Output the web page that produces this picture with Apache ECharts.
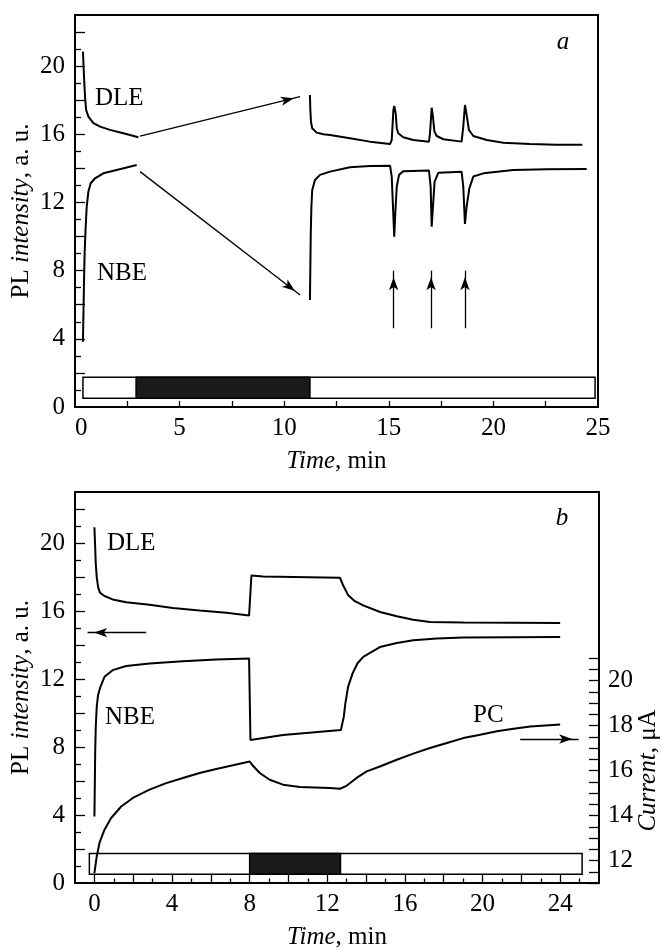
<!DOCTYPE html>
<html>
<head>
<meta charset="utf-8">
<script src="https://cdn.jsdelivr.net/npm/echarts@6/dist/echarts.min.js"></script>
<style>html,body{margin:0;padding:0;background:#fff}#c{width:661px;height:951px}</style>
</head>
<body>
<div id="c"></div>
<script>
// ---------- Panel a data ----------
const dleA1 = [[0.38,20.85],[0.43,19.38],[0.48,18.2],[0.53,17.43],[0.64,17.04],[0.88,16.65],[1.20,16.45],[1.67,16.26],[2.31,16.06],[3.03,15.83]];
const nbeA1 = [[0.38,3.83],[0.40,5.30],[0.43,7.26],[0.46,9.02],[0.51,10.58],[0.56,11.76],[0.64,12.64],[0.75,13.13],[0.96,13.42],[1.35,13.71],[1.99,13.91],[2.95,14.20]];
const dleA2 = [[11.23,18.31],[11.25,17.43],[11.28,16.74],[11.34,16.35],[11.55,16.10],[11.87,16.0],[12.19,15.96],[13.14,15.77],[14.1,15.57],[15.06,15.43],[15.14,15.67],[15.22,17.43],[15.26,17.66],[15.33,17.24],[15.38,16.36],[15.45,16.06],[15.69,15.83],[16.17,15.67],[16.92,15.57],[16.97,16.06],[17.05,17.56],[17.11,17.04],[17.18,16.16],[17.29,15.90],[17.61,15.71],[18.48,15.57],[18.56,16.45],[18.64,17.72],[18.72,17.14],[18.83,16.26],[19.04,15.90],[19.68,15.67],[20.47,15.51],[21.75,15.43],[23.03,15.39],[24.25,15.38]];
const nbeA2 = [[11.23,6.28],[11.25,8.23],[11.27,10.19],[11.30,11.75],[11.34,12.73],[11.47,13.32],[11.71,13.62],[12.19,13.81],[13.14,14.07],[14.1,14.14],[15.06,14.16],[15.14,13.52],[15.22,11.17],[15.26,9.99],[15.31,11.37],[15.38,12.93],[15.49,13.62],[15.69,13.83],[16.92,13.87],[17.0,12.93],[17.05,10.58],[17.11,11.75],[17.19,13.22],[17.37,13.75],[18.48,13.81],[18.56,12.93],[18.64,10.74],[18.72,11.75],[18.85,12.83],[19.04,13.52],[19.52,13.71],[20.95,13.91],[22.55,13.95],[24.46,13.97]];
const barA = [0.38, 24.86];      // open bar (time span)
const darkA = [2.92, 11.23];     // filled bar (time span)
const arrowsA = [
  [[3.11,15.90],[10.76,18.21]],
  [[3.11,13.81],[10.76,6.57]],
  [[15.23,4.62],[15.23,8.0]],
  [[17.02,4.62],[17.02,8.0]],
  [[18.64,4.62],[18.64,8.0]]
];
const xLabelsA = [0,5,10,15,20,25];
const xTicksA = [2.5,5,7.5,10,12.5,15,17.5,20,22.5];
const yLabels = [0,4,8,12,16,20];
const yMajorTicks = [2,4,6,8,10,12,14,16,18,20,22];
const yMinorTicks = [1,3,5,7,9,11,13,15,17,19,21];

// ---------- Panel b data ----------
const dleB = [[0,20.93],[0.04,19.75],[0.07,18.78],[0.12,17.99],[0.19,17.40],[0.29,17.07],[0.52,16.88],[0.94,16.68],[1.64,16.52],[2.84,16.37],[4.04,16.17],[5.42,16.03],[6.80,15.90],[7.97,15.74],[8.09,18.09],[8.69,18.03],[11.01,17.99],[12.65,17.96],[12.82,17.5],[13.08,16.92],[13.42,16.58],[13.85,16.33],[14.72,15.94],[15.58,15.69],[16.43,15.49],[17.29,15.35],[19.01,15.32],[21.6,15.31],[24.0,15.29]];
const nbeB = [[0,3.91],[0.02,5.67],[0.04,7.63],[0.07,9.19],[0.12,10.37],[0.19,11.06],[0.31,11.54],[0.52,12.13],[0.94,12.52],[1.64,12.76],[2.84,12.91],[4.56,13.05],[6.28,13.15],[7.97,13.20],[8.04,8.41],[8.09,8.51],[9.72,8.70],[12.7,9.0],[12.85,9.78],[12.93,10.56],[13.07,11.54],[13.3,12.32],[13.55,12.91],[13.85,13.30],[14.71,13.88],[15.58,14.12],[16.43,14.28],[17.64,14.38],[19.01,14.44],[24.0,14.47]];
const pcB = [[0,11.44],[0.12,12.18],[0.26,12.78],[0.52,13.37],[0.86,13.89],[1.38,14.40],[1.98,14.78],[2.84,15.15],[3.70,15.44],[4.56,15.67],[5.42,15.89],[6.28,16.07],[7.14,16.23],[8.0,16.40],[8.17,16.21],[8.52,15.89],[9.03,15.59],[9.72,15.37],[10.58,15.27],[12.13,15.22],[12.65,15.19],[12.99,15.32],[13.51,15.67],[14.03,15.96],[14.71,16.18],[15.58,16.48],[16.43,16.75],[17.29,17.0],[18.16,17.22],[19.01,17.44],[19.88,17.59],[20.74,17.74],[21.6,17.86],[22.46,17.96],[24.0,18.04]];
const barB = [-0.26, 25.13];
const darkB = [8.0, 12.68];
const arrowB_PL = [[2.67,14.73],[-0.35,14.73]];
const arrowB_PC = [[21.94,17.4],[24.95,17.4]];
const xLabelsB = [0,4,8,12,16,20,24];
const xMajorTicksB = [0,2,4,6,8,10,12,14,16,18,20,22,24];
const xMinorTicksB = [1,3,5,7,9,11,13,15,17,19,21,23,25];
const yLabelsCurrent = [12,14,16,18,20];

// ---------- Styling ----------
const FONT = '"Liberation Serif", "Times New Roman", serif';
const FS = 25;
const BLACK = '#000';
const BAR_Y = [0.52, 1.74];

function lineSeries(name, data, xi, yi, extra) {
  return Object.assign({
    name, type: 'line', data, xAxisIndex: xi, yAxisIndex: yi,
    showSymbol: false, symbol: 'none', smooth: false, silent: true,
    lineStyle: { color: BLACK, width: 2 }, z: 3
  }, extra || {});
}
function arrowLines(list) {
  return {
    silent: true, symbol: ['none', 'arrow'],
    lineStyle: { color: BLACK, width: 1.3, type: 'solid' },
    label: { show: false }, emphasis: { disabled: true },
    data: list.map(([p, q]) => [
      { coord: p, symbol: 'none' },
      { coord: q, symbol: 'arrow', symbolSize: [7, 13], symbolOffset: [0, '50%'] }
    ])
  };
}
function bars(open, dark) {
  return {
    silent: true,
    data: [
      [{ coord: [open[0], BAR_Y[0]], itemStyle: { color: '#fff', borderColor: BLACK, borderWidth: 1.5 } }, { coord: [open[1], BAR_Y[1]] }],
      [{ coord: [dark[0], BAR_Y[0]], itemStyle: { color: '#1a1a1a', borderColor: BLACK, borderWidth: 1.5 } }, { coord: [dark[1], BAR_Y[1]] }]
    ]
  };
}
const labelStyle = { fontSize: FS, fontFamily: FONT, color: BLACK };
const richI = { i: { fontStyle: 'italic', fontSize: FS, fontFamily: FONT, color: BLACK } };
const tickLine = { color: BLACK, width: 1.3 };

function xAxisMain(gi, min, max, ticks, labels, tickLen, alignMin) {
  return {
    gridIndex: gi, type: 'value', min, max, position: 'bottom',
    axisLine: { show: false, onZero: false }, splitLine: { show: false },
    axisTick: { show: true, inside: true, length: tickLen, lineStyle: tickLine, customValues: ticks },
    axisLabel: Object.assign({}, labelStyle, { margin: 9, customValues: labels, alignMinLabel: alignMin ? 'left' : undefined }),
    name: '{i|Time}, min', nameLocation: 'middle', nameGap: 42, nameMoveOverlap: false,
    nameTextStyle: Object.assign({}, labelStyle, { rich: richI })
  };
}
function xAxisMinor(gi, min, max, ticks, tickLen) {
  return {
    gridIndex: gi, type: 'value', min, max, position: 'bottom', offset: 0,
    axisLine: { show: false, onZero: false }, splitLine: { show: false },
    axisTick: { show: true, inside: true, length: tickLen, lineStyle: tickLine, customValues: ticks },
    axisLabel: { show: false }
  };
}
function yAxisPL(gi) {
  return {
    gridIndex: gi, type: 'value', min: 0, max: 23, position: 'left',
    axisLine: { show: false, onZero: false }, splitLine: { show: false },
    axisTick: { show: true, inside: true, length: 10, lineStyle: tickLine, customValues: yMajorTicks },
    axisLabel: Object.assign({}, labelStyle, { margin: 10, customValues: yLabels }),
    name: 'PL {i|intensity}, a. u.', nameLocation: 'middle', nameGap: 41, nameMoveOverlap: false,
    nameTextStyle: Object.assign({}, labelStyle, { rich: richI })
  };
}
function yAxisPLMinor(gi) {
  return {
    gridIndex: gi, type: 'value', min: 0, max: 23, position: 'left', offset: 0,
    axisLine: { show: false, onZero: false }, splitLine: { show: false },
    axisTick: { show: true, inside: true, length: 6, lineStyle: tickLine, customValues: yMinorTicks },
    axisLabel: { show: false }
  };
}
const gridBase = { containLabel: false, outerBoundsMode: 'none' };

const option = {
  animation: false,
  backgroundColor: '#fff',
  grid: [
    Object.assign({ left: 75, top: 15, width: 523, height: 392, show: true, borderColor: BLACK, borderWidth: 2, backgroundColor: 'transparent' }, gridBase),
    Object.assign({ left: 75, top: 492, width: 524, height: 391, show: true, borderColor: BLACK, borderWidth: 2, backgroundColor: 'transparent' }, gridBase),
    Object.assign({ left: 75, top: 658, width: 524, height: 225, show: false }, gridBase)
  ],
  xAxis: [
    xAxisMain(0, 0, 25, xTicksA, xLabelsA, 6, true),
    xAxisMain(1, -1, 26, xMajorTicksB, xLabelsB, 8, false),
    { gridIndex: 2, type: 'value', min: -1, max: 26, show: false, axisLine: { onZero: false } },
    xAxisMinor(1, -1, 26, xMinorTicksB, 4.5)
  ],
  yAxis: [
    yAxisPL(0),
    yAxisPL(1),
    {
      gridIndex: 2, type: 'value', position: 'right', min: 11, max: 21, interval: 0.5,
      axisLine: { show: false, onZero: false }, splitLine: { show: false },
      axisTick: { show: true, inside: true, length: 10, lineStyle: tickLine },
      axisLabel: Object.assign({}, labelStyle, { margin: 9, formatter: v => yLabelsCurrent.includes(v) ? String(v) : '' }),
      name: '{i|Current}, μA', nameLocation: 'middle', nameGap: 37, nameRotate: 90, nameMoveOverlap: false,
      nameTextStyle: Object.assign({}, labelStyle, { rich: richI })
    },
    yAxisPLMinor(0),
    yAxisPLMinor(1)
  ],
  series: [
    lineSeries('DLE a1', dleA1, 0, 0, { markLine: arrowLines(arrowsA), markArea: bars(barA, darkA) }),
    lineSeries('NBE a1', nbeA1, 0, 0),
    lineSeries('DLE a2', dleA2, 0, 0),
    lineSeries('NBE a2', nbeA2, 0, 0),
    lineSeries('DLE b', dleB, 1, 1, { markLine: arrowLines([arrowB_PL]), markArea: bars(barB, darkB) }),
    lineSeries('NBE b', nbeB, 1, 1),
    lineSeries('PC b', pcB, 2, 2, { markLine: arrowLines([arrowB_PC]) })
  ],
  graphic: [
    { type: 'text', x: 95, y: 98, style: { text: 'DLE', font: `${FS}px ${FONT}`, fill: BLACK, textAlign: 'left', textVerticalAlign: 'middle' } },
    { type: 'text', x: 97, y: 273, style: { text: 'NBE', font: `${FS}px ${FONT}`, fill: BLACK, textAlign: 'left', textVerticalAlign: 'middle' } },
    { type: 'text', x: 563, y: 42, style: { text: 'a', font: `italic ${FS}px ${FONT}`, fill: BLACK, textAlign: 'center', textVerticalAlign: 'middle' } },
    { type: 'text', x: 107, y: 543, style: { text: 'DLE', font: `${FS}px ${FONT}`, fill: BLACK, textAlign: 'left', textVerticalAlign: 'middle' } },
    { type: 'text', x: 105, y: 717, style: { text: 'NBE', font: `${FS}px ${FONT}`, fill: BLACK, textAlign: 'left', textVerticalAlign: 'middle' } },
    { type: 'text', x: 473, y: 715, style: { text: 'PC', font: `${FS}px ${FONT}`, fill: BLACK, textAlign: 'left', textVerticalAlign: 'middle' } },
    { type: 'text', x: 562, y: 518, style: { text: 'b', font: `italic ${FS}px ${FONT}`, fill: BLACK, textAlign: 'center', textVerticalAlign: 'middle' } }
  ]
};
const chart = echarts.init(document.getElementById('c'), null, { renderer: 'canvas' });
chart.setOption(option);
</script>
</body>
</html>
